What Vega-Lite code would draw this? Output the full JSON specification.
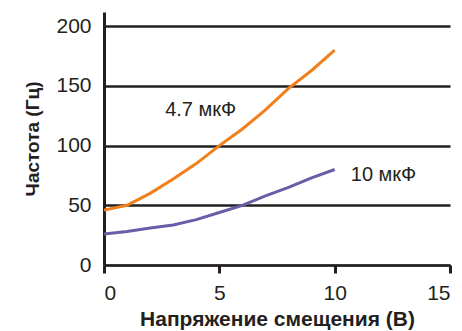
{
  "$schema": "https://vega.github.io/schema/vega-lite/v6.json",
  "autosize": "none",
  "width": 346,
  "height": 253,
  "padding": {"left": 104, "top": 12, "right": 12, "bottom": 66},
  "background": "white",
  "config": {
    "view": {"stroke": null},
    "font": "Liberation Sans"
  },
  "datasets": {
    "lines": [
      {"series": "4.7 мкФ", "v": 0, "f": 46},
      {"series": "4.7 мкФ", "v": 1, "f": 50},
      {"series": "4.7 мкФ", "v": 2, "f": 60},
      {"series": "4.7 мкФ", "v": 3, "f": 72},
      {"series": "4.7 мкФ", "v": 4, "f": 85},
      {"series": "4.7 мкФ", "v": 5, "f": 100},
      {"series": "4.7 мкФ", "v": 6, "f": 114},
      {"series": "4.7 мкФ", "v": 7, "f": 130},
      {"series": "4.7 мкФ", "v": 8, "f": 148},
      {"series": "4.7 мкФ", "v": 9, "f": 163},
      {"series": "4.7 мкФ", "v": 10, "f": 180},
      {"series": "10 мкФ", "v": 0, "f": 26},
      {"series": "10 мкФ", "v": 1, "f": 28},
      {"series": "10 мкФ", "v": 2, "f": 31},
      {"series": "10 мкФ", "v": 3, "f": 33.5},
      {"series": "10 мкФ", "v": 4, "f": 38},
      {"series": "10 мкФ", "v": 5, "f": 44},
      {"series": "10 мкФ", "v": 6, "f": 50},
      {"series": "10 мкФ", "v": 7, "f": 58},
      {"series": "10 мкФ", "v": 8, "f": 65},
      {"series": "10 мкФ", "v": 9, "f": 73},
      {"series": "10 мкФ", "v": 10, "f": 80}
    ],
    "labels": [
      {"series": "4.7 мкФ", "v": 2.65, "f": 130},
      {"series": "10 мкФ", "v": 10.7, "f": 75}
    ]
  },
  "layer": [
    {
      "data": {"name": "lines"},
      "mark": {"type": "line", "strokeWidth": 3},
      "encoding": {
        "x": {
          "field": "v", "type": "quantitative",
          "scale": {"domain": [0, 15], "nice": false},
          "axis": {
            "title": "Напряжение смещения (В)",
            "values": [0, 5, 10, 15],
            "grid": false,
            "domainColor": "#231f20", "domainWidth": 2,
            "tickColor": "#231f20", "tickWidth": 3, "tickSize": 8,
            "labelFont": "Liberation Sans", "labelFontSize": 21, "labelColor": "#231f20",
            "labelPadding": 9,
            "titleFont": "Liberation Sans", "titleFontSize": 21, "titleFontWeight": "bold", "titleColor": "#231f20",
            "titlePadding": 5
          }
        },
        "y": {
          "field": "f", "type": "quantitative",
          "scale": {"domain": [0, 212], "nice": false},
          "axis": {
            "title": "Частота (Гц)",
            "values": [0, 50, 100, 150, 200],
            "grid": true, "gridColor": "#231f20", "gridWidth": 2.5, "gridOpacity": 1,
            "domainColor": "#231f20", "domainWidth": 3,
            "ticks": false,
            "labelFont": "Liberation Sans", "labelFontSize": 21, "labelColor": "#231f20",
            "labelPadding": 13,
            "titleFont": "Liberation Sans", "titleFontSize": 19, "titleFontWeight": "bold", "titleColor": "#231f20",
            "titlePadding": 13
          }
        },
        "color": {
          "field": "series", "type": "nominal",
          "scale": {"domain": ["4.7 мкФ", "10 мкФ"], "range": ["#f07f1c", "#6b5ca8"]},
          "legend": null
        }
      }
    },
    {
      "data": {"name": "labels"},
      "mark": {"type": "text", "align": "left", "baseline": "middle", "fontSize": 20, "font": "Liberation Sans", "color": "#231f20"},
      "encoding": {
        "x": {"field": "v", "type": "quantitative"},
        "y": {"field": "f", "type": "quantitative"},
        "text": {"field": "series"}
      }
    }
  ]
}
